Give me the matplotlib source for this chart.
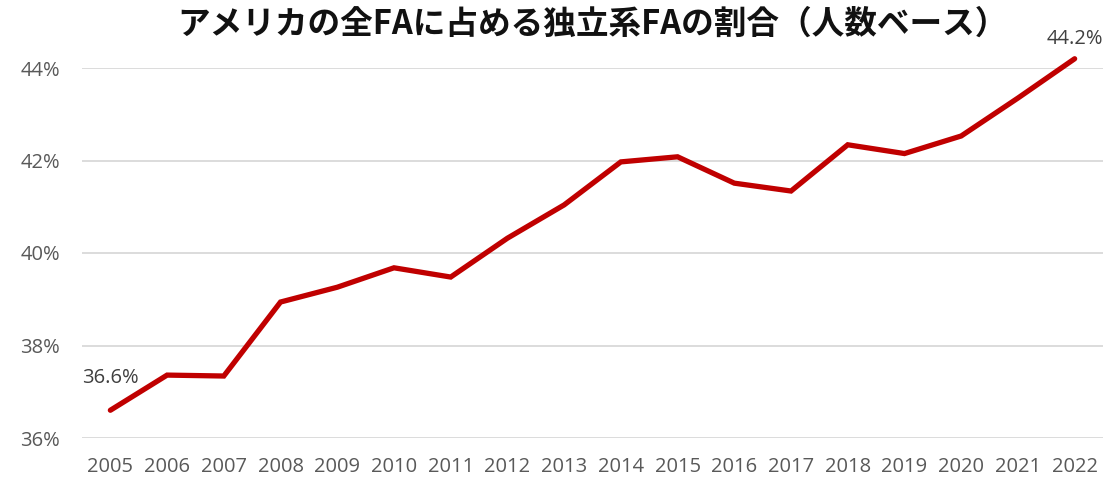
import matplotlib.pyplot as plt

# data
years = ['2005', '2006', '2007', '2008', '2009', '2010', '2011', '2012', '2013',
         '2014', '2015', '2016', '2017', '2018', '2019', '2020', '2021', '2022']
share = [36.6, 37.36, 37.34, 38.94, 39.26, 39.68, 39.48, 40.32, 41.04,
         41.97, 42.08, 41.51, 41.34, 42.34, 42.15, 42.53, 43.35, 44.2]
yticks = [36, 38, 40, 42, 44]

plt.rcParams['font.family'] = ['Open Sans', 'Noto Sans CJK JP', 'DejaVu Sans']

fig = plt.figure(figsize=(11.15, 4.84), dpi=100)
ax = fig.add_axes([82 / 1115, 1 - 438 / 484, (1103 - 82) / 1115, (438 - 68) / 484])

x = list(range(len(years)))
ax.plot(x, share, color='#C00000', linewidth=3.8, solid_capstyle='round',
        solid_joinstyle='miter', clip_on=False, zorder=3)

ax.set_xlim(-0.5, len(years) - 0.5)
ax.set_ylim(36, 44)
ax.set_xticks(x)
ax.set_xticklabels(years)
ax.set_yticks(yticks)
ax.set_yticklabels([f'{t}%' for t in yticks])
ax.tick_params(length=0, labelsize=14.5, colors='#595959')
ax.tick_params(axis='x', pad=14)
ax.tick_params(axis='y', pad=16)
ax.grid(axis='y', color='#D9D9D9', linewidth=1.3)
ax.set_axisbelow(True)
for s in ax.spines.values():
    s.set_visible(False)

# data labels at the first and last points
ax.annotate(f'{share[0]:.1f}%', (x[0], share[0]), xytext=(0, 16),
            textcoords='offset points', ha='center', va='bottom',
            fontsize=14.5, color='#404040', annotation_clip=False)
ax.annotate(f'{share[-1]:.1f}%', (x[-1], share[-1]), xytext=(0, 7),
            textcoords='offset points', ha='center', va='bottom',
            fontsize=14.5, color='#404040', annotation_clip=False)

fig.text((82 + 1103) / 2 / 1115, 1 - 24 / 484,
         'アメリカの全FAに占める独立系FAの割合（人数ベース）',
         ha='center', va='center', fontsize=23.5, fontweight='bold',
         family=['Noto Sans CJK JP', 'DejaVu Sans'], color='#111111')

fig.savefig('out.png', dpi=100)
